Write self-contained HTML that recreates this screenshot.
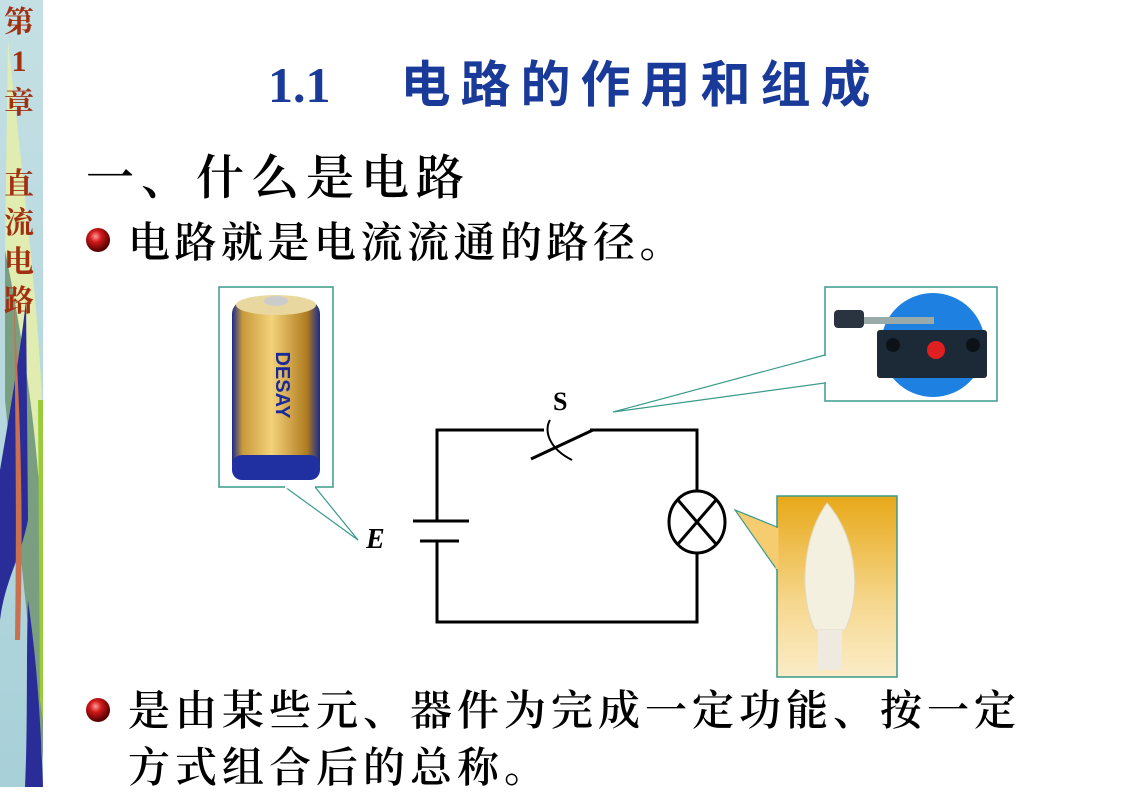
<!DOCTYPE html>
<html><head><meta charset="utf-8"><style>
html,body{margin:0;padding:0;}
body{width:1143px;height:787px;position:relative;overflow:hidden;background:#fff;}
.t{position:absolute;white-space:nowrap;}
</style></head><body>
<svg width="1143" height="787" style="position:absolute;left:0;top:0">
<defs>
<linearGradient id="sb" x1="0" y1="0" x2="0" y2="1">
<stop offset="0" stop-color="#c4e0e4"/><stop offset="1" stop-color="#a8d0d8"/>
</linearGradient>
<radialGradient id="ball" cx="0.4" cy="0.35" r="0.6">
<stop offset="0" stop-color="#ff9a9a"/><stop offset="0.4" stop-color="#d21a1a"/><stop offset="1" stop-color="#5a0000"/>
</radialGradient>
<linearGradient id="bat" x1="0" y1="0" x2="1" y2="0">
<stop offset="0" stop-color="#1a2a8a"/><stop offset="0.12" stop-color="#c89a3a"/><stop offset="0.45" stop-color="#f4d27a"/><stop offset="0.85" stop-color="#b07c20"/><stop offset="1" stop-color="#1a2a8a"/>
</linearGradient>
<linearGradient id="bulbbg" x1="0" y1="0" x2="0" y2="1">
<stop offset="0" stop-color="#e8a818"/><stop offset="0.6" stop-color="#f6d890"/><stop offset="1" stop-color="#fbecc8"/>
</linearGradient>
</defs>
<rect x="0" y="0" width="43" height="787" fill="url(#sb)"/>
<path d="M8,40 C25,200 38,300 43,420 L43,620 C30,500 15,350 5,250Z" fill="#e0ecb0"/>
<path d="M5,250 C25,350 40,450 43,560 L43,760 C30,650 15,500 5,400Z" fill="#7a9e80"/>
<path d="M0,470 C12,400 22,340 26,300 L28,520 C20,560 5,580 0,620Z" fill="#2a2c98"/>
<path d="M28,600 C35,650 40,700 43,787 L25,787 C28,720 26,660 28,600Z" fill="#2a2c98"/>
<path d="M14,300 C20,420 24,500 20,640 L15,640 C17,500 15,400 14,300Z" fill="#c87050"/>
<path d="M38,400 L43,400 L43,720 L40,700Z" fill="#9acb3a"/>
<rect x="219" y="287" width="114" height="200" fill="#fff" stroke="#3a9a8a" stroke-width="1.5"/>
<rect x="232" y="300" width="88" height="178" rx="14" fill="url(#bat)"/>
<ellipse cx="276" cy="305" rx="40" ry="10" fill="#e8d8a0"/>
<ellipse cx="276" cy="301" rx="12" ry="5" fill="#ccc"/>
<rect x="232" y="455" width="88" height="25" rx="10" fill="#2030a0"/>
<text x="276" y="385" transform="rotate(90 276 385)" font-family="Liberation Sans" font-weight="bold" font-size="20" fill="#1a2a9a" text-anchor="middle">DESAY</text>
<polygon points="285,487 358,540 315,487" fill="#fff" stroke="#3a9a8a" stroke-width="1.2"/>
<line x1="285" y1="487" x2="315" y2="487" stroke="#fff" stroke-width="3"/>
<rect x="825" y="287" width="172" height="114" fill="#fff" stroke="#3a9a8a" stroke-width="1.5"/>
<circle cx="933" cy="345" r="52" fill="#1e80e0"/>
<rect x="877" y="330" width="110" height="48" rx="3" fill="#1c2a38"/>
<rect x="834" y="310" width="30" height="18" rx="4" fill="#2a3440"/>
<rect x="864" y="317" width="70" height="7" fill="#9aa"/>
<circle cx="936" cy="350" r="9" fill="#e02020"/>
<circle cx="893" cy="345" r="7" fill="#0c1218"/><circle cx="973" cy="345" r="7" fill="#0c1218"/>
<polygon points="825,355 613,412 825,383" fill="#fff" stroke="#3a9a8a" stroke-width="1.2"/>
<line x1="825" y1="356" x2="825" y2="382" stroke="#fff" stroke-width="3"/>
<rect x="777" y="496" width="120" height="181" fill="url(#bulbbg)" stroke="#3a9a8a" stroke-width="1.5"/>
<polygon points="777,527 735,510 777,570" fill="#f6cc70" stroke="#3a9a8a" stroke-width="1.2"/>
<line x1="777" y1="528" x2="777" y2="569" stroke="#f6cc70" stroke-width="3"/>
<path d="M827,503 C800,540 800,600 815,630 L845,630 C860,600 860,540 827,503Z" fill="#f4f0e0" stroke="#e0d8c0"/>
<rect x="818" y="630" width="24" height="40" fill="#eeeae0"/>
<g stroke="#000" stroke-width="3" fill="none">
<polyline points="544,430 437,430 437,521"/>
<polyline points="437,541 437,622 697,622 697,552"/>
<polyline points="590,430 697,430 697,492"/>
<line x1="531" y1="459" x2="593" y2="430"/>
<line x1="413" y1="521" x2="469" y2="521"/>
<line x1="420" y1="541" x2="459" y2="541"/>
<ellipse cx="697" cy="522" rx="28" ry="31"/>
<line x1="678" y1="500" x2="716" y2="544"/>
<line x1="716" y1="500" x2="678" y2="544"/>
</g>
<path d="M550,420 C544,430 548,448 572,460" stroke="#000" stroke-width="2" fill="none"/>
<text x="553" y="410" font-family="Liberation Serif" font-weight="bold" font-size="26">S</text>
<text x="366" y="548" font-family="Liberation Serif" font-weight="bold" font-style="italic" font-size="28">E</text>
<circle cx="98" cy="240" r="12" fill="url(#ball)"/>
<circle cx="98" cy="710" r="12" fill="url(#ball)"/>
</svg>
<div class="t" style="left:0px;top:0px;width:38px;text-align:center;font-family:'Noto Serif CJK SC',serif;font-size:30px;line-height:39px;color:#a03010;font-weight:bold;">第<br><span style="font-family:'Liberation Serif'">1</span><br>章<br><div style="height:42px"></div>直<br>流<br>电<br>路</div>
<div class="t" style="left:268px;top:50px;font-size:50px;line-height:70px;color:#1a3a9a;"><span style="font-family:'Liberation Serif',serif;font-weight:bold;">1.1</span><span style="display:inline-block;width:70px"></span><span style="font-family:'Liberation Sans','Noto Sans CJK SC',sans-serif;font-weight:bold;letter-spacing:10px;">电路的作用和组成</span></div>
<div class="t" style="left:86px;top:142px;font-family:'Noto Serif CJK SC',serif;font-weight:600;font-size:48px;line-height:64px;letter-spacing:7px;color:#000;">一、什么是电路</div>
<div class="t" style="left:128px;top:212px;font-family:'Noto Serif CJK SC',serif;font-weight:600;font-size:42px;line-height:56px;letter-spacing:4.5px;color:#000;">电路就是电流流通的路径。</div>
<div class="t" style="left:128px;top:680px;font-family:'Noto Serif CJK SC',serif;font-weight:600;font-size:42px;line-height:57px;letter-spacing:5px;color:#000;">是由某些元、器件为完成一定功能、按一定<br>方式组合后的总称。</div>
</body></html>
